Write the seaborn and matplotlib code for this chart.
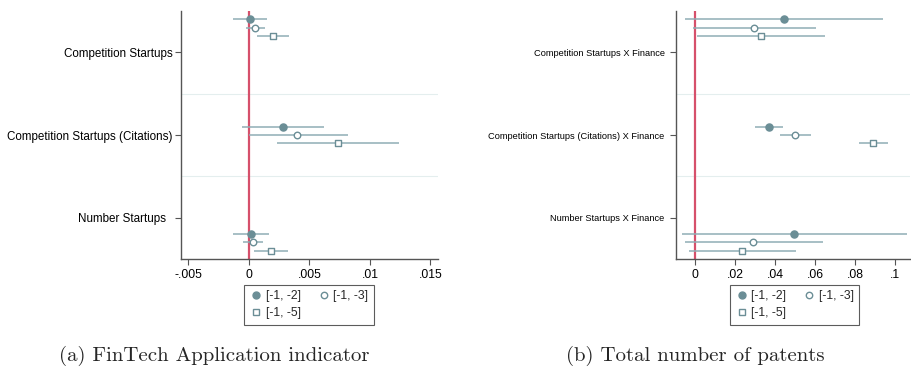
import numpy as np
import pandas as pd
import matplotlib
matplotlib.use("Agg")
import matplotlib.pyplot as plt
from matplotlib.lines import Line2D
import seaborn as sns

# Datos de los coeficientes (punto estimado y IC)
windows = ["[-1, -2]", "[-1, -3]", "[-1, -5]"]

labels_a = ["Competition Startups", "Competition Startups (Citations)", "Number Startups  "]
coef_a = [[0.00006, 0.00052, 0.0020],
          [0.0028, 0.0040, 0.00736],
          [0.0002, 0.00036, 0.0018]]
lo_a = [[-0.0013, -0.00025, 0.00064],
        [-0.00055, 0.0, 0.0023],
        [-0.0013, -0.0005, 0.00044]]
hi_a = [[0.0015, 0.00132, 0.00336],
        [0.0062, 0.0082, 0.0124],
        [0.0017, 0.0012, 0.0032]]

labels_b = ["Competition Startups X Finance", "Competition Startups (Citations) X Finance",
            "Number Startups X Finance"]
coef_b = [[0.0443, 0.0297, 0.0332],
          [0.0372, 0.0501, 0.0892],
          [0.0494, 0.0292, 0.0237]]
lo_b = [[-0.0052, -0.0009, 0.0012],
        [0.0302, 0.0423, 0.082],
        [-0.0064, -0.0052, -0.0029]]
hi_b = [[0.094, 0.0603, 0.065],
        [0.0441, 0.0581, 0.0965],
        [0.1058, 0.064, 0.0504]]

xticks_a = [-0.005, 0, 0.005, 0.01, 0.015]
xticklabels_a = ["-.005", "0", ".005", ".01", ".015"]
xticks_b = [0, 0.02, 0.04, 0.06, 0.08, 0.1]
xticklabels_b = ["0", ".02", ".04", ".06", ".08", ".1"]

captions = ["(a) FinTech Application indicator", "(b) Total number of patents"]

MARK = "#6b8e96"
CI = "#8fadb5"
RED = "#d6506b"
SEP = "#e4eeee"


def to_df(labels, coef, lo, hi):
    rows = []
    for i, lab in enumerate(labels):
        for j, w in enumerate(windows):
            # desplazamiento vertical estilo coefplot
            off = (j - 1) * 0.1 + (i - 1) * 0.3
            rows.append({"cat": i, "y": i + off, "window": w,
                         "coef": coef[i][j], "lo": lo[i][j], "hi": hi[i][j]})
    return pd.DataFrame(rows)


sns.set_style("ticks")
plt.rcParams["font.family"] = ["Liberation Sans", "DejaVu Sans"]

fig = plt.figure(figsize=(9.12, 3.75), dpi=100)
ax_a = fig.add_axes([181 / 912, 1 - 259 / 375, (437.7 - 181) / 912, 248 / 375])
ax_b = fig.add_axes([675.7 / 912, 1 - 259 / 375, (910 - 675.7) / 912, 248 / 375])

markers = {"[-1, -2]": "o", "[-1, -3]": "o", "[-1, -5]": "s"}
faces = {"[-1, -2]": MARK, "[-1, -3]": "white", "[-1, -5]": "white"}
sizes = {"[-1, -2]": 26, "[-1, -3]": 22, "[-1, -5]": 22}

panels = [
    (ax_a, to_df(labels_a, coef_a, lo_a, hi_a), labels_a, xticks_a, xticklabels_a,
     (-0.0056, 0.0156), 8.4),
    (ax_b, to_df(labels_b, coef_b, lo_b, hi_b), labels_b, xticks_b, xticklabels_b,
     (-0.0097, 0.1075), 6.7),
]

for ax, df, labels, xt, xtl, xlim, lsize in panels:
    for sep in [0.5, 1.5]:
        ax.axhline(sep, color=SEP, lw=0.8, zorder=0)
    ax.axvline(0, color=RED, lw=1.6, zorder=1)
    ax.hlines(df["y"], df["lo"], df["hi"], color=CI, lw=1.1, zorder=2)
    for w in windows:
        sub = df[df["window"] == w]
        sns.scatterplot(data=sub, x="coef", y="y", ax=ax, marker=markers[w],
                        s=sizes[w], color=faces[w], edgecolor=MARK, linewidth=1.0,
                        zorder=3, legend=False)
    ax.set_ylim(2.5, -0.5)
    ax.set_xlim(*xlim)
    ax.set_yticks([0, 1, 2])
    ax.set_yticklabels(labels, fontsize=lsize)
    ax.set_xticks(xt)
    ax.set_xticklabels(xtl, fontsize=8.8)
    ax.set_xlabel("")
    ax.set_ylabel("")
    sns.despine(ax=ax)
    for s in ["left", "bottom"]:
        ax.spines[s].set_color("#555555")
        ax.spines[s].set_linewidth(1.0)
    ax.tick_params(axis="both", colors="#555555", labelcolor="black", length=4, width=0.8)
    ax.tick_params(axis="y", pad=2 if ax is ax_a else 4)

handles = [
    Line2D([], [], ls="", marker="o", ms=5, mfc=MARK, mec=MARK),
    Line2D([], [], ls="", marker="o", ms=4.6, mfc="white", mec=MARK),
    Line2D([], [], ls="", marker="s", ms=4.6, mfc="white", mec=MARK),
]
# orden para que la fila 1 tenga [-1,-2] y [-1,-3]
order = [0, 2, 1]
for cx in [309 / 912, 794.7 / 912]:
    leg = fig.legend([handles[k] for k in order], [windows[k] for k in order],
                     loc="center", bbox_to_anchor=(cx, 1 - 304.7 / 375),
                     ncol=2, fontsize=8.7, frameon=True, fancybox=False,
                     handletextpad=0.3, columnspacing=1.4, handlelength=1.0,
                     borderpad=0.45, labelspacing=0.45)
    leg.get_frame().set_edgecolor("#333333")
    leg.get_frame().set_linewidth(0.8)

fig.text(214 / 912, 1 - 356 / 375, captions[0], ha="center", va="center",
         fontsize=15, family="cmr10")
fig.text(695 / 912, 1 - 356 / 375, captions[1], ha="center", va="center",
         fontsize=15, family="cmr10")

fig.savefig("out.png", dpi=100)
